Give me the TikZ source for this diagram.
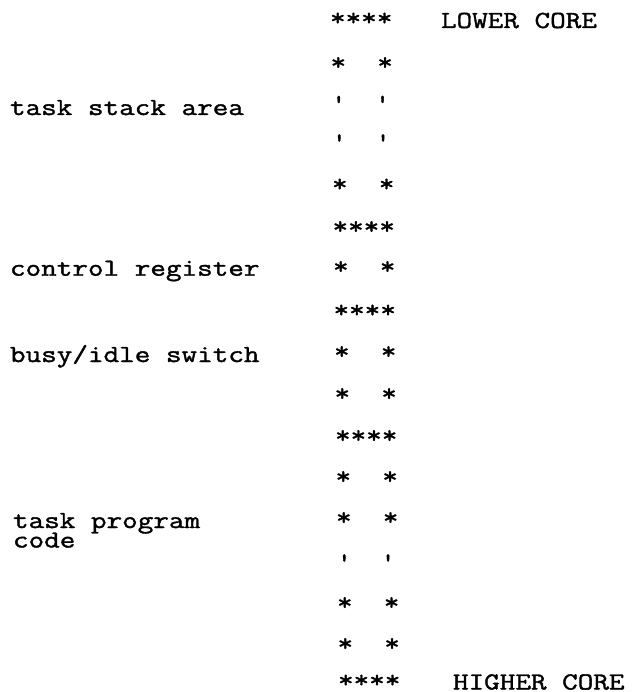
\documentclass[tikz,border=0pt]{standalone}
\usepackage{fontspec}
% typewriter face, widened so that one character cell is about 15.9bp
\newfontfamily\typewriter[FakeStretch=1.236,FakeBold=1.5]{Latin Modern Mono}
% the three kinds of rows in the memory column
\newcommand\cfull{****}
\newcommand\cside{*~~*}
\newcommand\ctick{\textquotesingle~~\textquotesingle}
\begin{document}
\begin{tikzpicture}[x=1bp,y=-1bp,
  tw/.style={font=\typewriter\fontsize{24.5bp}{24.5bp}\selectfont,
             anchor=base west, inner sep=0pt, outer sep=0pt, text depth=0pt}]
\useasboundingbox (0,0) rectangle (632,692);
% memory column, from lower core (top) to higher core (bottom)
\foreach \n/\y/\k in {1/25.5/\cfull, 2/70/\cside, 3/111/\ctick, 4/149.5/\ctick,
                      5/191.5/\cside, 6/234/\cfull, 7/274/\cside, 8/317.5/\cfull,
                      9/359/\cside, 10/401/\cside, 11/443/\cfull, 12/484/\cside,
                      13/525/\cside, 14/569.5/\ctick, 15/610/\cside, 16/651/\cside,
                      17/687.5/\cfull}
  \node[tw] (row\n) at ({330+0.5*(\n-1)},\y) {\k};
% ends of the column
\node[tw] (lower)  at (441,28)    {LOWER CORE};
\node[tw] (higher) at (453,689.5) {HIGHER CORE};
% areas of the task
\node[tw] (stack)   at (10,115)   {task stack area};
\node[tw] (control) at (10,275.7) {control register};
\node[tw] (busy)    at (10,362)   {busy/idle switch};
\node[tw] (prog)    at (13,528)   {task program};
\node[tw] (code)    at (13,547.5) {code};
\end{tikzpicture}
\end{document}
